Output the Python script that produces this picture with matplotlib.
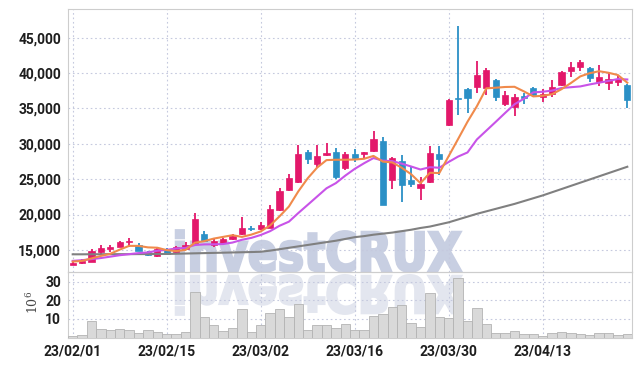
import os
import matplotlib
matplotlib.use("Agg")
import matplotlib.pyplot as plt
from matplotlib.textpath import TextPath
from matplotlib.patches import PathPatch
from matplotlib.font_manager import FontProperties
from matplotlib.transforms import Affine2D
import numpy as np

# daily candles, 23/02/01 .. 23/04/26
opens = [12850, 13100, 13350, 14720, 15100, 15380, 16050, 15700, 14670, 14200,
         15100, 14700, 15100, 15950, 17260, 15710, 16040, 16550, 17260, 18000,
         17970, 18150, 20650, 23470, 24640, 28890, 27140, 28400, 28820, 26540,
         28560, 28560, 29000, 30390, 24880, 27550, 24880, 23800, 24530, 28560,
         32650, 36500, 37730, 38060, 37860, 39000, 35570, 35180, 36700, 37860,
         36650, 36960, 38300, 40340, 40800, 40650, 38760, 38620, 38760, 38300]
highs = [13300, 13690, 15140, 15700, 15730, 16250, 16650, 15950, 14800, 15300,
         15250, 15500, 16100, 20180, 17700, 16550, 16650, 17270, 19700, 18330,
         18900, 21350, 23750, 25690, 29780, 29100, 29780, 30070, 29450, 28800,
         29250, 28900, 31850, 30910, 28100, 28440, 26760, 25350, 29730, 29690,
         36300, 46630, 37900, 41730, 40700, 39200, 37500, 37100, 37200, 38000,
         37700, 39000, 40300, 41500, 41800, 40800, 41120, 40200, 39600, 38400]
lows = [12800, 13050, 13300, 14440, 14760, 15350, 15470, 14850, 14200, 14050,
        14350, 14550, 15000, 15900, 16150, 15400, 15950, 16450, 17150, 17640,
        17800, 18050, 20500, 23300, 24500, 27150, 26640, 28300, 25000, 26300,
        27400, 27800, 28800, 21300, 23570, 21820, 23940, 22060, 24400, 25590,
        32500, 34060, 34340, 37240, 36890, 36100, 35400, 33930, 35600, 36600,
        35970, 36650, 38100, 39400, 40300, 38700, 38160, 37550, 38100, 35000]
closes = [13200, 13450, 14860, 15330, 15420, 16130, 16090, 14900, 14250, 15200,
          14430, 15350, 15750, 19380, 16270, 16270, 16510, 16980, 18150, 17900,
          18530, 20750, 23370, 25120, 28560, 27810, 28270, 28680, 25370, 28560,
          27960, 28840, 30670, 21350, 27990, 24180, 24320, 24320, 28680, 27810,
          36180, 36350, 36510, 39710, 40420, 36590, 36880, 36650, 36450, 36890,
          37030, 38000, 40200, 40800, 41550, 39320, 39380, 39100, 39190, 36180]

# volume in millions
volume = [1.0, 1.1, 8.7, 4.6, 3.9, 4.4, 3.9, 2.3, 3.9, 3.0,
          1.7, 1.7, 2.8, 24.4, 10.9, 6.6, 3.5, 5.0, 15.2, 3.0,
          6.6, 13.1, 15.2, 10.9, 17.9, 3.9, 6.6, 6.6, 5.0, 7.1,
          3.9, 3.9, 11.4, 12.7, 16.3, 17.6, 7.7, 5.7, 23.9, 11.1,
          10.4, 32.0, 8.7, 15.8, 7.3, 2.3, 2.3, 3.3, 1.9, 1.7,
          0.8, 2.6, 3.0, 2.4, 1.9, 1.5, 2.4, 2.4, 1.4, 1.9]

# moving average lines
ma_short = [13350, 13450, 13800, 14150, 14450, 15040, 15570, 15570, 15360, 15310,
            14970, 14830, 15000, 16020, 16240, 16600, 16840, 17080, 16840, 17160,
            17610, 18460, 19740, 21130, 23270, 25120, 26630, 27690, 27740, 27740,
            27770, 27880, 28280, 27480, 27360, 26610, 25700, 24430, 25900, 25860,
            28260, 30670, 33110, 35310, 37830, 37920, 38020, 38050, 37400, 36690,
            36780, 37000, 37710, 38580, 39520, 39970, 40250, 40030, 39710, 38630]
ma_mid = [13450, 13550, 13700, 13850, 14050, 14250, 14400, 14550, 14650, 14880,
          15010, 15200, 15290, 15690, 15780, 15790, 15830, 16040, 16430, 16700,
          17110, 17650, 18410, 18990, 20210, 21370, 22540, 23710, 24440, 25500,
          26450, 27250, 27980, 27610, 27550, 27190, 26790, 26360, 26690, 26610,
          27430, 28190, 28770, 30610, 31850, 33090, 34350, 35580, 36360, 37260,
          37350, 37510, 37880, 37990, 38100, 38380, 38630, 38870, 39150, 39080]
ma_long = [14380, 14380, 14390, 14390, 14400, 14400, 14400, 14410, 14410, 14420,
           14430, 14460, 14490, 14520, 14550, 14580, 14610, 14640, 14670, 14700,
           14740, 14900, 15100, 15300, 15500, 15700, 15900, 16100, 16300, 16550,
           16800, 16950, 17150, 17300, 17450, 17650, 17850, 18100, 18300, 18600,
           18900, 19300, 19700, 20100, 20450, 20800, 21150, 21500, 21900, 22300,
           22700, 23150, 23600, 24050, 24500, 24950, 25400, 25850, 26300, 26750]

tick_labels = ["23/02/01", "23/02/15", "23/03/02", "23/03/16", "23/03/30", "23/04/13"]

RED = "#e3186a"
BLUE = "#2b90c6"
GRID = "#c5c9de"
SPINE = "#cdcdcd"
TXT = "#1e1e1e"

plt.rcParams["font.family"] = ["Roboto", "DejaVu Sans"]
plt.rcParams["font.weight"] = "bold"
plt.rcParams["mathtext.fontset"] = "dejavuserif"

fig = plt.figure(figsize=(6.42, 3.66), dpi=100)
ax = fig.add_axes([68 / 642, 1 - 272 / 366, 564 / 642, 263 / 366])
axv = fig.add_axes([68 / 642, 1 - 337.5 / 366, 564 / 642, 65.5 / 366], sharex=ax)
for a in (ax, axv):
    a.set_facecolor("none")
    for s in a.spines.values():
        s.set_color(SPINE)
        s.set_linewidth(0.8)
    a.grid(True, color=GRID, linestyle=(0, (1.5, 2.5)), linewidth=0.8)
    a.set_axisbelow(True)
    a.tick_params(length=0, labelsize=10, colors=TXT, pad=5)

# watermark with reflection (stroked to look heavier)
bold_ttf = os.path.join(matplotlib.get_data_path(), "fonts", "ttf", "DejaVuSans-Bold.ttf")
fp = FontProperties(fname=bold_ttf)
tp = TextPath((0, 0), "investCRUX", size=1, prop=fp)
ext = tp.get_extents()
sx = 285 / ext.width
sy = 39 / 0.729
to_fig = Affine2D().scale(1 / 642, 1 / 366) + fig.transFigure
main = Affine2D().translate(-ext.x0, 0).scale(sx, sy).translate(176, 366 - 271) + to_fig
refl = Affine2D().translate(-ext.x0, 0).scale(sx, -sy * 0.95).translate(176, 366 - 276) + to_fig
fig.add_artist(PathPatch(tp, transform=main, facecolor="#c8cfe2", edgecolor="#c8cfe2",
                         linewidth=1.8, zorder=-1))
fig.add_artist(PathPatch(tp, transform=refl, facecolor="#e3e6ef", edgecolor="#e3e6ef",
                         linewidth=1.8, zorder=-1))

x = np.arange(len(closes))
o = np.array(opens)
c = np.array(closes)
up = c >= o
colors = [RED if u else BLUE for u in up]
body_lo = np.minimum(o, c)
body_h = np.maximum(np.abs(c - o), 180)

ax.vlines(x, lows, highs, colors=colors, linewidth=1.3, zorder=3)
ax.bar(x, body_h, bottom=body_lo, width=0.66, color=colors, edgecolor=colors,
       linewidth=0.5, zorder=4)

ax.plot(x, ma_long, color="#808080", lw=1.5, zorder=5)
ax.plot(x, ma_mid, color="#c853e8", lw=1.5, zorder=5)
ax.plot(x, ma_short, color="#f08a4b", lw=1.5, zorder=6)

ax.set_ylim(11880, 49040)
ax.set_yticks(range(15000, 45001, 5000))
ax.set_yticklabels([f"{v:,}" for v in range(15000, 45001, 5000)])
ax.set_xlim(-0.5, len(closes) - 0.5)
ax.set_xticks(range(0, len(closes), 10))
ax.tick_params(axis="x", labelbottom=False)

axv.bar(x, volume, width=1.0, color="#d9d9d9", edgecolor="#b3b3b3", linewidth=0.6, zorder=3)
axv.set_ylim(0, 35.4)
axv.set_yticks([10, 20, 30])
axv.set_xticks(range(0, len(closes), 10))
axv.set_xticklabels(tick_labels)
fig.text(33 / 642, 1 - 302 / 366, r"$\mathregular{10^6}$", rotation=90, ha="center",
         va="center", fontsize=9, color="#444444", family="DejaVu Serif", weight="normal")

fig.savefig("out.png", dpi=100, facecolor="white")
